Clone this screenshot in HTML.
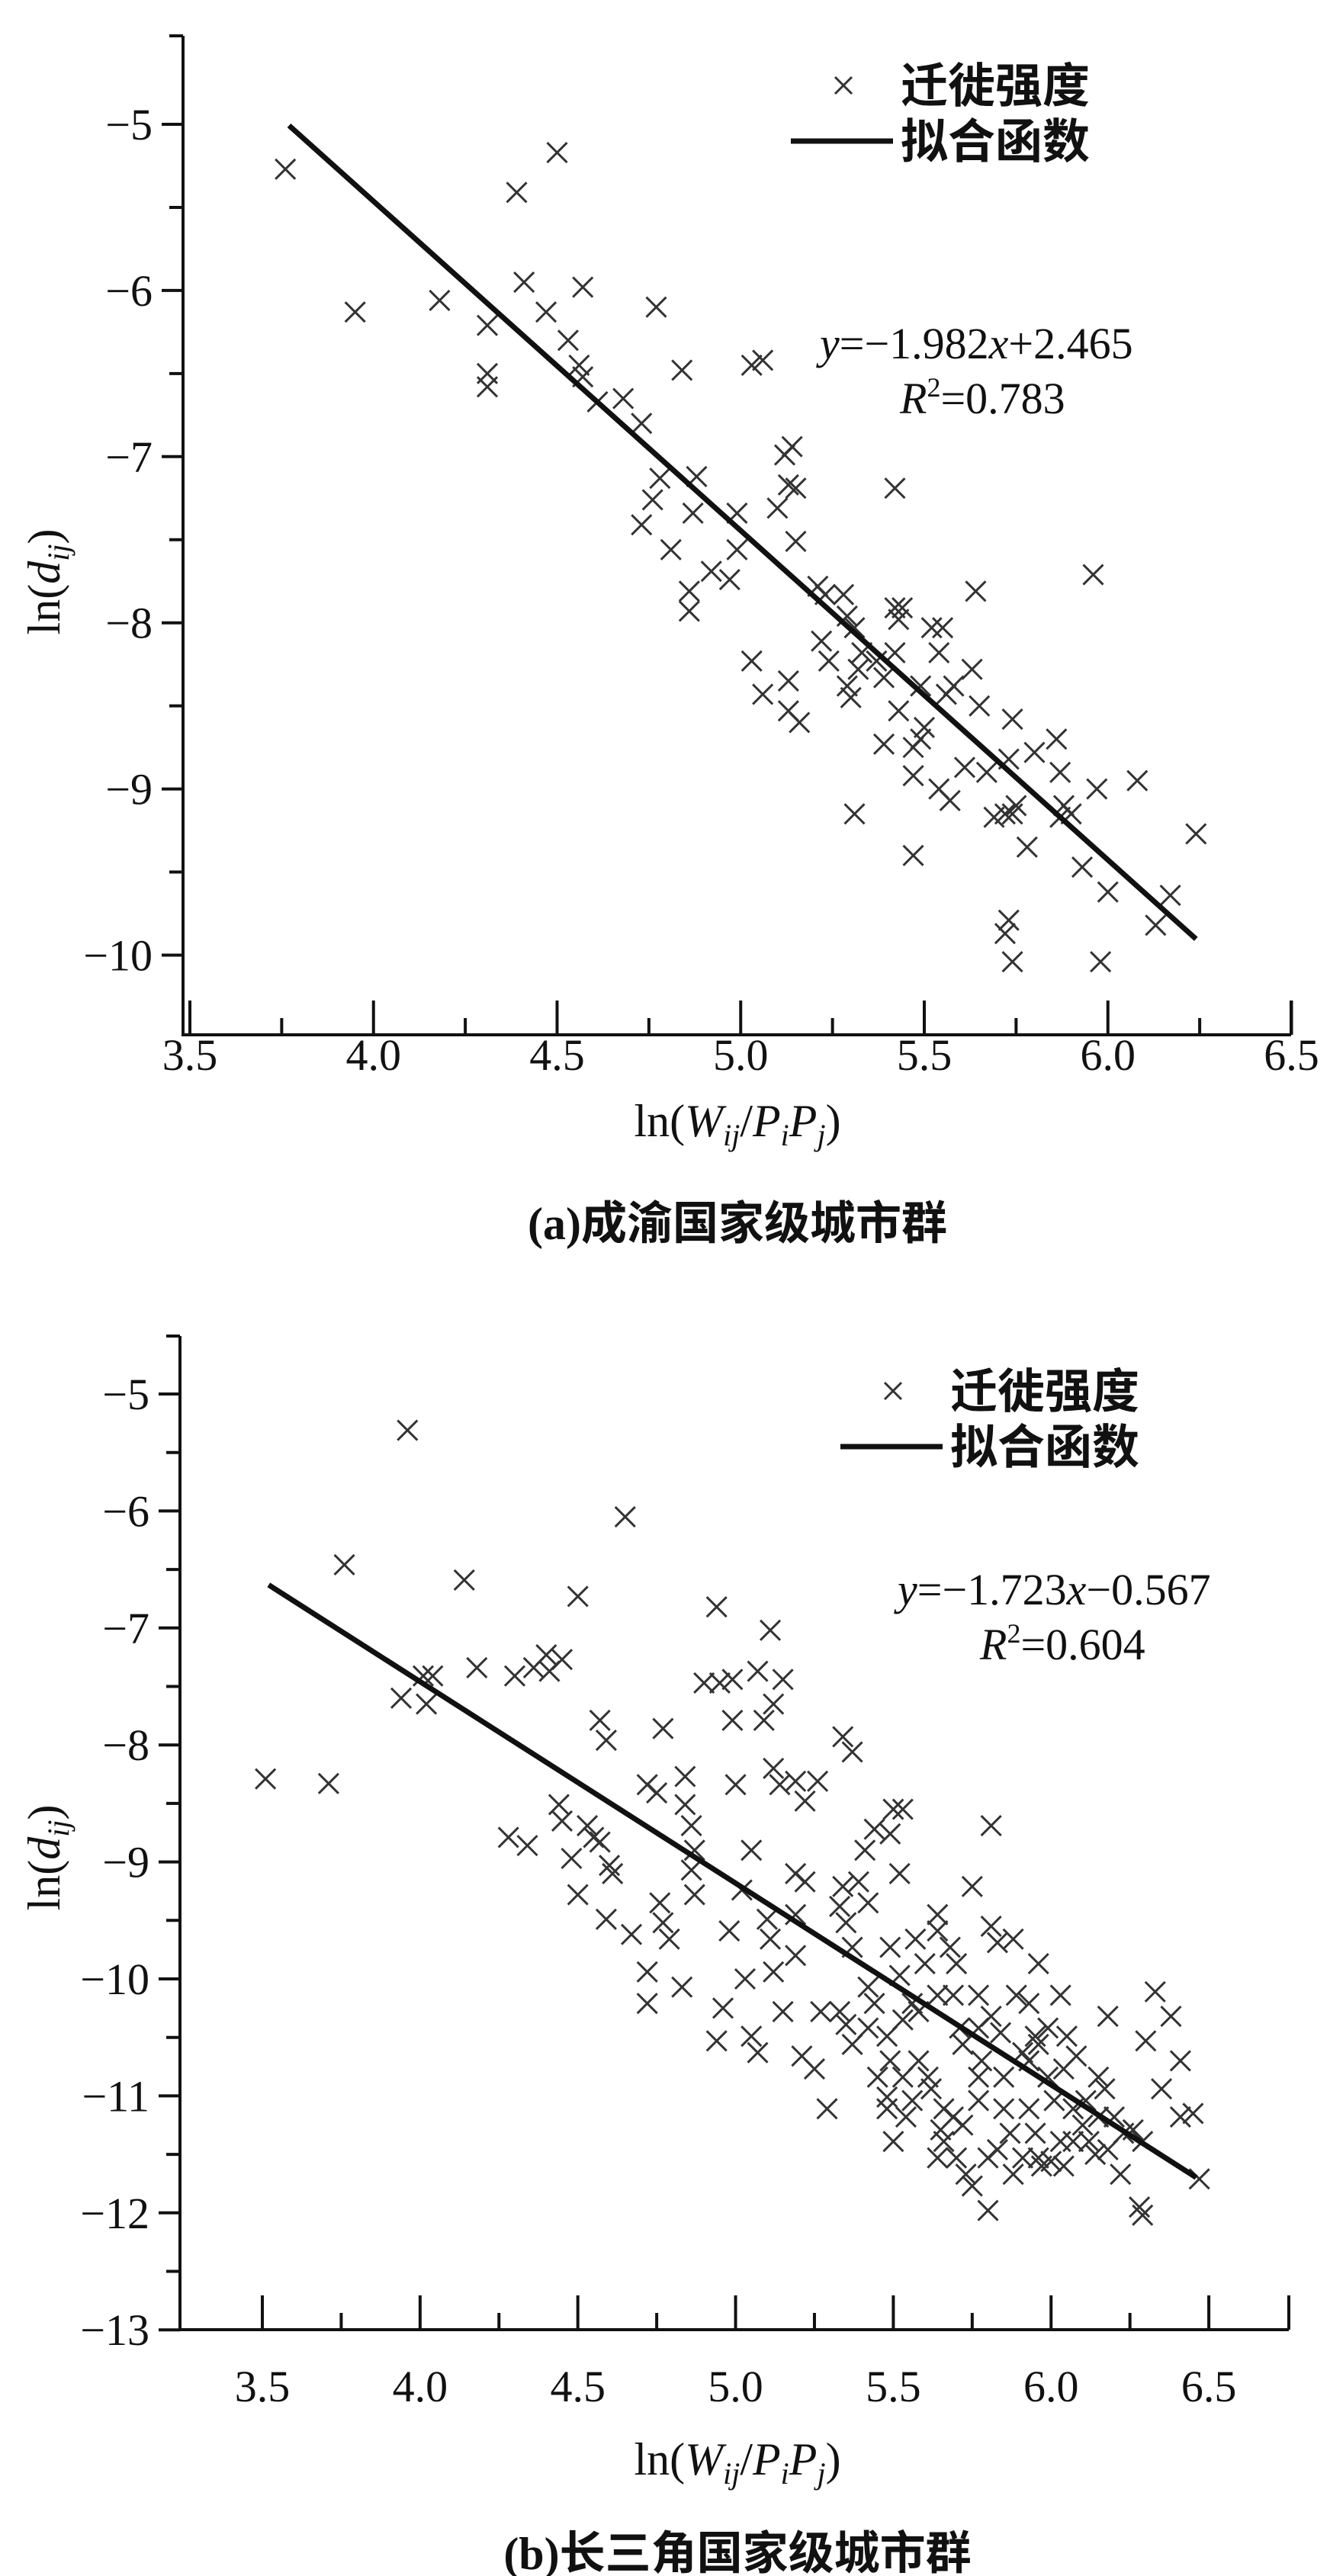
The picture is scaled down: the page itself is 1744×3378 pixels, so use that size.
<!DOCTYPE html>
<html><head><meta charset="utf-8"><style>
html,body{margin:0;padding:0;background:#fff;}
svg{display:block;}
text{font-family:"Liberation Serif","Noto Serif CJK SC",serif;fill:#111;}
.cjk{font-family:"Liberation Serif","Noto Sans CJK SC",sans-serif;font-weight:700;}
</style></head><body>
<svg id="chart" width="1744" height="3378" viewBox="0 0 1744 3378" xmlns="http://www.w3.org/2000/svg"></svg>
<script>
// Panel (a) data: 成渝
const aX = [3.76,3.95,4.18,4.31,4.31,4.31,4.39,4.41,4.47,4.5,4.53,4.57,4.56,4.57,4.61,4.68,4.73,4.77,4.84,4.78,4.76,4.73,4.81,4.88,4.87,4.86,4.86,4.92,4.97,4.99,4.99,5.03,5.06,5.03,5.06,5.10,5.12,5.14,5.13,5.15,5.15,5.13,5.13,5.16,5.21,5.23,5.28,5.22,5.24,5.29,5.31,5.29,5.30,5.32,5.33,5.31,5.37,5.39,5.39,5.42,5.42,5.43,5.44,5.42,5.43,5.47,5.49,5.47,5.49,5.50,5.47,5.52,5.54,5.55,5.54,5.57,5.56,5.58,5.63,5.64,5.65,5.61,5.67,5.69,5.72,5.74,5.73,5.75,5.74,5.72,5.73,5.74,5.78,5.80,5.86,5.87,5.88,5.87,5.90,5.93,5.96,5.97,6.0,5.98,6.08,6.13,6.17,6.24];
const aY = [-5.27,-6.13,-6.06,-6.21,-6.50,-6.58,-5.41,-5.95,-6.13,-5.17,-6.30,-5.98,-6.45,-6.52,-6.67,-6.65,-6.80,-6.10,-6.48,-7.13,-7.26,-7.41,-7.56,-7.12,-7.34,-7.81,-7.93,-7.69,-7.74,-7.34,-7.56,-6.45,-6.42,-8.23,-8.43,-7.31,-6.99,-6.94,-7.17,-7.19,-7.51,-8.35,-8.53,-8.60,-7.78,-7.83,-7.83,-8.11,-8.23,-7.96,-8.03,-8.38,-8.45,-8.28,-8.18,-9.15,-8.23,-8.33,-8.73,-7.19,-7.91,-7.98,-7.91,-8.18,-8.53,-8.92,-8.70,-8.75,-8.38,-8.63,-9.40,-8.03,-8.18,-8.03,-9.0,-9.07,-8.43,-8.38,-8.28,-7.81,-8.50,-8.87,-8.90,-9.17,-9.15,-8.58,-8.82,-9.10,-9.15,-9.87,-9.79,-10.04,-9.35,-8.78,-8.70,-8.90,-9.10,-9.17,-9.15,-9.47,-7.71,-9.0,-9.62,-10.04,-8.95,-9.82,-9.64,-9.27];
const aFit = [-1.982, 2.465];
const aFitRange = [3.77, 6.24];
const aXTicks = ["3.5","4.0","4.5","5.0","5.5","6.0","6.5"];
const aYTicks = ["−5","−6","−7","−8","−9","−10"];

// Panel (b) data: 长三角
const bX = [3.51,3.71,3.76,3.96,3.94,4.01,4.02,4.04,4.14,4.18,4.28,4.30,4.34,4.36,4.40,4.41,4.45,4.44,4.45,4.48,4.50,4.50,4.53,4.55,4.57,4.59,4.57,4.60,4.61,4.59,4.65,4.67,4.72,4.75,4.77,4.72,4.72,4.76,4.77,4.79,4.83,4.84,4.84,4.86,4.87,4.86,4.87,4.90,4.94,4.95,4.99,4.94,4.96,4.98,5.0,4.99,5.02,5.03,5.05,5.05,5.07,5.07,5.09,5.10,5.11,5.12,5.11,5.12,5.15,5.12,5.14,5.15,5.19,5.22,5.19,5.22,5.19,5.19,5.21,5.25,5.26,5.27,5.29,5.33,5.34,5.35,5.34,5.37,5.33,5.35,5.37,5.39,5.42,5.41,5.44,5.42,5.44,5.45,5.48,5.48,5.49,5.50,5.53,5.49,5.52,5.49,5.52,5.50,5.53,5.54,5.56,5.57,5.60,5.58,5.61,5.62,5.64,5.64,5.64,5.65,5.66,5.68,5.70,5.71,5.72,5.69,5.73,5.75,5.75,5.77,5.78,5.77,5.80,5.80,5.81,5.81,5.83,5.81,5.84,5.85,5.87,5.88,5.89,5.91,5.91,5.93,5.95,5.96,5.95,5.96,5.97,5.96,5.99,6.01,6.03,6.04,6.03,6.05,6.08,6.10,6.12,6.14,6.15,6.17,6.18,6.20,6.23,6.22,6.28,6.29,6.26,6.29,6.30,6.33,6.35,6.38,6.41,6.41,6.45,6.47,5.66,5.72,5.77,5.83,5.88,5.93,6.00,6.07,6.11,6.15,6.18,5.48,5.53,5.42,5.37,5.58,5.69,5.85,5.93,5.99,6.04,6.07,5.77,5.64,5.56,5.70];
const bY = [-8.29,-8.33,-6.46,-5.31,-7.60,-7.41,-7.65,-7.41,-6.59,-7.34,-8.79,-7.41,-8.86,-7.34,-7.23,-7.37,-7.27,-8.51,-8.65,-8.97,-9.28,-6.73,-8.69,-8.79,-7.79,-7.96,-8.83,-9.03,-9.10,-9.49,-6.05,-9.62,-8.34,-8.41,-7.86,-9.94,-10.21,-9.35,-9.52,-9.66,-10.07,-8.27,-8.51,-8.69,-8.90,-9.07,-9.28,-7.47,-6.82,-7.47,-7.44,-10.53,-10.25,-9.59,-8.34,-7.79,-9.24,-10.0,-8.90,-10.49,-10.63,-7.37,-7.79,-9.49,-9.66,-9.94,-7.02,-7.65,-7.44,-8.20,-8.34,-10.28,-8.31,-8.48,-9.10,-9.17,-9.45,-9.80,-10.66,-10.77,-8.31,-10.28,-11.11,-9.38,-9.21,-9.52,-7.93,-8.06,-10.28,-10.39,-9.73,-9.17,-9.35,-8.90,-8.72,-10.07,-10.21,-10.84,-11.01,-10.49,-10.70,-8.55,-8.55,-8.76,-9.10,-9.73,-9.97,-11.39,-10.35,-11.18,-11.04,-9.66,-9.87,-10.70,-10.84,-10.94,-9.45,-9.59,-10.14,-11.29,-11.39,-9.73,-9.87,-10.42,-10.56,-11.18,-11.67,-11.77,-9.21,-10.14,-10.70,-10.84,-11.53,-11.98,-8.69,-9.55,-9.69,-10.32,-10.46,-11.11,-11.32,-9.66,-10.14,-10.63,-11.53,-10.70,-10.49,-10.56,-11.32,-11.53,-11.60,-9.87,-10.84,-11.04,-11.39,-11.60,-10.14,-10.49,-10.66,-11.25,-11.39,-11.50,-10.84,-10.94,-10.32,-11.18,-11.32,-11.67,-11.95,-12.02,-11.29,-11.39,-10.53,-10.11,-10.94,-10.32,-10.70,-11.18,-11.15,-11.71,-11.11,-11.25,-11.04,-11.46,-11.67,-11.11,-11.56,-11.11,-11.04,-11.18,-11.46,-11.11,-10.84,-10.42,-10.56,-10.28,-10.14,-10.84,-10.21,-10.42,-10.77,-11.39,-10.42,-11.53,-10.21,-11.53];
const bFit = [-1.723, -0.567];
const bFitRange = [3.52, 6.46];
const bXTicks = ["3.5","4.0","4.5","5.0","5.5","6.0","6.5"];
const bYTicks = ["−5","−6","−7","−8","−9","−10","−11","−12","−13"];

const NS = "http://www.w3.org/2000/svg";
const svg = document.getElementById('chart');
function mk(tag, attrs, parent) {
  const e = document.createElementNS(NS, tag);
  for (const k in attrs) e.setAttribute(k, attrs[k]);
  (parent || svg).appendChild(e);
  return e;
}

function panel(cfg) {
  const g = mk('g', {});
  
  
  const sx = v => cfg.x0px + (v - cfg.x0) * cfg.kx;
  const sy = v => cfg.y0px + (cfg.y0 - v) * cfg.ky;
  const ax = mk('path', {d:`M${cfg.left},${cfg.top} L${cfg.left},${cfg.bottom} L${cfg.right},${cfg.bottom}`, fill:'none', stroke:'#111', 'stroke-width':4}, g);
  
  
  mk('line', {x1:cfg.left-18,y1:cfg.top,x2:cfg.left,y2:cfg.top,stroke:'#111','stroke-width':4}, g);
  mk('line', {x1:cfg.right,y1:cfg.bottom-45,x2:cfg.right,y2:cfg.bottom,stroke:'#111','stroke-width':4}, g);
  cfg.yTicks.forEach((lab, i) => {
    const v = cfg.y0 - i;
    const y = sy(v);
    mk('line', {x1:cfg.left-28,y1:y,x2:cfg.left,y2:y,stroke:'#111','stroke-width':4}, g);
    const t = mk('text', {x:cfg.left-40, y:y+20, 'font-size':58, 'text-anchor':'end'}, g);
    t.textContent = lab;
    
    
    const ym = sy(v - 0.5);
    if (ym < cfg.bottom - 5) mk('line', {x1:cfg.left-18,y1:ym,x2:cfg.left,y2:ym,stroke:'#111','stroke-width':4}, g);
  });
  cfg.xTicks.forEach((lab, i) => {
    const v = 3.5 + i * 0.5;
    const x = sx(v);
    mk('line', {x1:x,y1:cfg.bottom-45,x2:x,y2:cfg.bottom,stroke:'#111','stroke-width':4}, g);
    const t = mk('text', {x:x, y:cfg.labY, 'font-size':58, 'text-anchor':'middle'}, g);
    t.textContent = lab;
    
    
    const xm = sx(v + 0.25);
    if (xm < cfg.right - 5) mk('line', {x1:xm,y1:cfg.bottom-22,x2:xm,y2:cfg.bottom,stroke:'#111','stroke-width':4}, g);
  });
  const pg = mk('g', {stroke:'#333', 'stroke-width':3}, g);
  
  
  const r = 13;
  cfg.xs.forEach((xv, i) => {
    const px = sx(xv), py = sy(cfg.ys[i]);
    const p = mk('path', {d:`M${px-r},${py-r}L${px+r},${py+r}M${px-r},${py+r}L${px+r},${py-r}`}, pg);
    
    
  });
  const f = (x) => cfg.fit[0]*x + cfg.fit[1];
  const fl = mk('line', {x1:sx(cfg.fitRange[0]), y1:sy(f(cfg.fitRange[0])), x2:sx(cfg.fitRange[1]), y2:sy(f(cfg.fitRange[1])), stroke:'#111', 'stroke-width':7}, g);
  
  
  const lg = mk('g', {}, g);
  
  
  const lx = cfg.legX, ly = cfg.legY;
  mk('path', {d:`M${lx-11},${ly-11}L${lx+11},${ly+11}M${lx-11},${ly+11}L${lx+11},${ly-11}`, stroke:'#333','stroke-width':3}, lg);
  const t1 = mk('text', {x:lx+75, y:ly+22, 'font-size':62, class:'cjk'}, lg); t1.textContent = '迁徙强度';
  mk('line', {x1:lx-69, y1:ly+73, x2:lx+65, y2:ly+73, stroke:'#111','stroke-width':7}, lg);
  const t2 = mk('text', {x:lx+75, y:ly+95, 'font-size':62, class:'cjk'}, lg); t2.textContent = '拟合函数';
  const eq = mk('text', {x:cfg.eqX, y:cfg.eqY, 'font-size':58}, g);
  
  
  eq.innerHTML = cfg.eqHtml;
  const r2 = mk('text', {x:cfg.r2X, y:cfg.eqY+72, 'font-size':58}, g);
  
  
  r2.innerHTML = cfg.r2Html;
  const yt = mk('text', {x:0, y:0, 'font-size':60, 'text-anchor':'middle', transform:`translate(${cfg.yTitleX},${cfg.yTitleY}) rotate(-90)`}, g);
  
  
  yt.innerHTML = 'ln(<tspan font-style="italic">d</tspan><tspan font-style="italic" font-size="40" dy="12">ij</tspan><tspan dy="-12">)</tspan>';
  const xt = mk('text', {x:cfg.xTitleX, y:cfg.xTitleY, 'font-size':60, 'text-anchor':'middle'}, g);
  
  
  xt.innerHTML = 'ln(<tspan font-style="italic">W</tspan><tspan font-style="italic" font-size="40" dy="12">ij</tspan><tspan dy="-12">/</tspan><tspan font-style="italic">P</tspan><tspan font-style="italic" font-size="40" dy="12">i</tspan><tspan font-style="italic" dy="-12">P</tspan><tspan font-style="italic" font-size="40" dy="12">j</tspan><tspan dy="-12">)</tspan>';
  const cap = mk('text', {x:cfg.xTitleX, y:cfg.capY, 'font-size':60, 'text-anchor':'middle', class:'cjk'}, g);
  
  
  cap.textContent = cfg.caption;
}

panel({id:'panel-a', xs:aX, ys:aY, fit:aFit, fitRange:aFitRange, xTicks:aXTicks, yTicks:aYTicks,
  left:240, right:1693, top:47, bottom:1357,
  x0:3.5, x0px:249, kx:481.5, y0:-5, y0px:163, ky:217.9,
  legX:1106, legY:112, labY:1403,
  eqX:1075, eqY:470, r2X:1180,
  eqHtml:'<tspan font-style="italic">y</tspan>=−1.982<tspan font-style="italic">x</tspan>+2.465',
  r2Html:'<tspan font-style="italic">R</tspan><tspan font-size="36" dy="-22">2</tspan><tspan dy="22">=0.783</tspan>',
  yTitleX:78, yTitleY:763, xTitleX:967, xTitleY:1490, capY:1625, caption:'(a)成渝国家级城市群'});

panel({id:'panel-b', xs:bX, ys:bY, fit:bFit, fitRange:bFitRange, xTicks:bXTicks, yTicks:bYTicks,
  left:236, right:1690, top:1752, bottom:3055,
  x0:3.5, x0px:344, kx:413.7, y0:-5, y0px:1828, ky:153.4,
  legX:1171, legY:1824, labY:3149,
  eqX:1177, eqY:2104, r2X:1285,
  eqHtml:'<tspan font-style="italic">y</tspan>=−1.723<tspan font-style="italic">x</tspan>−0.567',
  r2Html:'<tspan font-style="italic">R</tspan><tspan font-size="36" dy="-22">2</tspan><tspan dy="22">=0.604</tspan>',
  yTitleX:78, yTitleY:2436, xTitleX:967, xTitleY:3245, capY:3369, caption:'(b)长三角国家级城市群'});
</script>
</body></html>
